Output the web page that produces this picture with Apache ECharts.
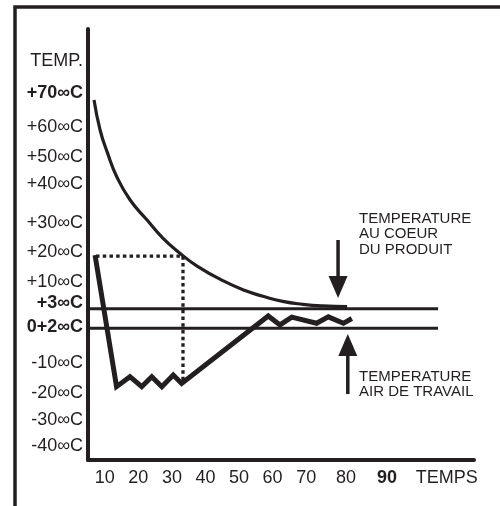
<!DOCTYPE html>
<html><head><meta charset="utf-8">
<style>html,body{margin:0;padding:0;background:#fff}#c{width:500px;height:506px}</style>
<script src="https://cdn.jsdelivr.net/npm/echarts@6.0.0/dist/echarts.min.js"></script>
</head><body><div id="c"></div>
<script>
// ---- tick labels (schematic, non-uniform axis) ----
const yTickValues = [80, 70, 59.5, 50.2, 41.8, 29.7, 20.6, 11.3, 4.8, -2.7, -13.9, -23.2, -31.6, -39.7];
const yTickLabels = ['TEMP.', '+70∞C', '+60∞C', '+50∞C', '+40∞C', '+30∞C', '+20∞C', '+10∞C', '+3∞C', '0+2∞C', '-10∞C', '-20∞C', '-30∞C', '-40∞C'];
const yTickBold   = [false, true, false, false, false, false, false, false, true, true, false, false, false, false];
const xTickValues = [10, 20, 30, 40, 50, 60, 70, 81.9, 94.1, 111.9];
const xTickLabels = ['10', '20', '30', '40', '50', '60', '70', '80', '90', 'TEMPS'];
const xTickBold   = [false, false, false, false, false, false, false, false, true, false];

// ---- series ----
const productTime = [6.8, 8.6, 10.7, 13.6, 17.5, 22.6, 27.3, 32.4, 37.5, 45.5, 52.0, 57.1, 63.0, 69.0, 75.0, 82.2];
const productTemp = [67.9, 58.6, 51.8, 44.0, 36.9, 30.6, 25.0, 20.3, 16.3, 11.6, 8.6, 6.9, 5.3, 4.4, 3.9, 3.7];
const airTime = [7.1, 13.5, 17.5, 21.0, 24.0, 27.0, 30.4, 32.9, 58.7, 62.2, 65.7, 73.1, 76.6, 81.1, 83.6];
const airTemp = [19.7, -21.2, -18.1, -21.2, -18.1, -21.2, -17.6, -20.2, 0.8, -2.0, 0.4, -1.5, 0.5, -1.5, 0.0];
const dottedTime = [7.4, 33.3, 33.3];
const dottedTemp = [19.4, 19.4, -19.8];
const limitTemps = [3, -3];
const limitTime = [5, 109.3];
const arrowTime = [79.5, 82.4];
const arrowFrom = [24.4, -23.5];
const arrowTo = [6.4, -4.8];

const INK = '#231f20';
const FONT = '"Liberation Sans", Arial, Helvetica, sans-serif';
const zip = (a, b) => a.map((v, i) => [v, b[i]]);
function nearestIdx(arr, v) { let bi = 0, bd = Infinity; arr.forEach((a, i) => { const d = Math.abs(a - v); if (d < bd) { bd = d; bi = i; } }); return bi; }

const series = [];
limitTemps.forEach(t => series.push({
  type: 'line', data: limitTime.map(x => [x, t]), showSymbol: false, silent: true,
  lineStyle: { color: INK, width: 3 }, z: 2
}));
series.push({
  type: 'line', data: zip(dottedTime, dottedTemp), showSymbol: false,
  lineStyle: { color: INK, width: 3.3, type: [3.5, 3.2] }, z: 2
});
series.push({
  type: 'line', data: zip(productTime, productTemp), showSymbol: false, smooth: 0.5,
  lineStyle: { color: INK, width: 3.2 }, z: 3
});
series.push({
  type: 'line', data: zip(airTime, airTemp), showSymbol: false,
  lineStyle: { color: INK, width: 5, join: 'miter' }, z: 4
});
series.push({
  type: 'custom',
  data: arrowTime.map((x, i) => [x, arrowFrom[i], arrowTo[i]]),
  encode: { x: 0, y: [1, 2] },
  renderItem: function (params, api) {
    const p0 = api.coord([api.value(0), api.value(1)]);
    const p1 = api.coord([api.value(0), api.value(2)]);
    const dir = Math.sign(p1[1] - p0[1]);
    const headLen = 22, hw = 9.5;
    const base = p1[1] - dir * headLen;
    return {
      type: 'group',
      children: [
        { type: 'line', shape: { x1: p0[0], y1: p0[1], x2: p1[0], y2: base + dir * 1 }, style: { stroke: INK, lineWidth: 3.5 } },
        { type: 'polygon', shape: { points: [[p1[0] - hw, base], [p1[0] + hw, base], [p1[0], p1[1]]] }, style: { fill: INK } }
      ]
    };
  },
  z: 5
});

const chart = echarts.init(document.getElementById('c'), null, { renderer: 'canvas' });
chart.setOption({
  animation: false,
  backgroundColor: '#fff',
  grid: { left: 88, top: 29, width: 386, height: 431, outerBoundsMode: 'none', containLabel: false },
  xAxis: {
    type: 'value', min: 5, max: 120,
    axisLine: { show: true, onZero: false, lineStyle: { color: INK, width: 4 } },
    axisTick: { show: false }, splitLine: { show: false },
    axisLabel: {
      customValues: xTickValues, margin: 9, color: INK, fontSize: 18, fontFamily: FONT,
      showMinLabel: true, showMaxLabel: true, hideOverlap: false,
      formatter: v => { const i = nearestIdx(xTickValues, v); return (xTickBold[i] ? '{b|' : '{n|') + xTickLabels[i] + '}'; },
      rich: {
        n: { fontSize: 18, fontFamily: FONT, color: INK },
        b: { fontSize: 18, fontFamily: FONT, color: INK, fontWeight: 'bold' }
      }
    }
  },
  yAxis: {
    type: 'value', min: -44, max: 90,
    axisLine: { show: true, onZero: false, lineStyle: { color: INK, width: 4 } },
    axisTick: { show: false }, splitLine: { show: false },
    axisLabel: {
      customValues: yTickValues, margin: 5, color: INK, fontSize: 18, fontFamily: FONT,
      showMinLabel: true, showMaxLabel: true, hideOverlap: false,
      formatter: v => { const i = nearestIdx(yTickValues, v); return (yTickBold[i] ? '{b|' : '{n|') + yTickLabels[i] + '}'; },
      rich: {
        n: { fontSize: 18, fontFamily: FONT, color: INK },
        b: { fontSize: 18, fontFamily: FONT, color: INK, fontWeight: 'bold' }
      }
    }
  },
  graphic: [
    { type: 'rect', shape: { x: 15, y: 7, width: 520, height: 520 }, style: { fill: null, stroke: INK, lineWidth: 3.5 }, silent: true },
    { type: 'text', left: 359, top: 211, style: { text: 'TEMPERATURE\nAU COEUR\nDU PRODUIT', font: '15px ' + FONT, fill: INK, lineHeight: 15.5 } },
    { type: 'text', left: 359, top: 369, style: { text: 'TEMPERATURE\nAIR DE TRAVAIL', font: '15px ' + FONT, fill: INK, lineHeight: 15.5 } }
  ],
  series: series
});
</script>
</body></html>
